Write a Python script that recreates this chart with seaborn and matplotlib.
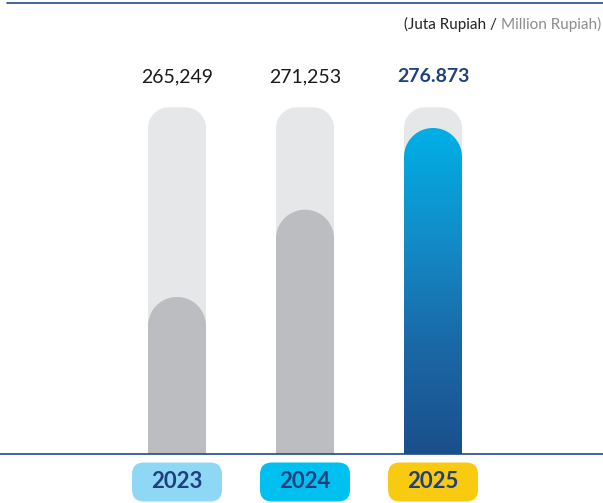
import numpy as np
import pandas as pd
import matplotlib
matplotlib.use("Agg")
import matplotlib.pyplot as plt
import seaborn as sns
from matplotlib.path import Path
from matplotlib.patches import PathPatch, FancyBboxPatch
from matplotlib.lines import Line2D
from matplotlib.transforms import blended_transform_factory
from matplotlib.colors import LinearSegmentedColormap

# ---------------- data ----------------
years = ["2023", "2024", "2025"]
values = [265249, 271253, 276873]
value_labels = ["265,249", "271,253", "276.873"]
track_value = 278300          # height of the light background "track"
axis_min = 254450
axis_max = 285470

# ---------------- style ----------------
sns.set_theme(style="white")
plt.rcParams['font.family'] = ['Lato', 'DejaVu Sans']

W, H = 603, 503
fig = plt.figure(figsize=(W / 100, H / 100), dpi=100)
ax = fig.add_axes([0, 49 / H, 1, 451 / H])

df = pd.DataFrame({"year": years, "value": values})
tdf = pd.DataFrame({"year": years, "value": [track_value] * len(years)})

bar_w = 58 / 128
sns.barplot(data=tdf, x="year", y="value", color="#e6e7e9", width=bar_w,
            saturation=1, ax=ax)
sns.barplot(data=df, x="year", y="value", color="#bcbdc0", width=bar_w,
            saturation=1, ax=ax)

xlim = (-177 / 128, (W - 177) / 128)
ax.set_xlim(*xlim)
ax.set_ylim(axis_min, axis_max)

ppx = W / (xlim[1] - xlim[0])
ppy = 451 / (axis_max - axis_min)


def arc(cx, cy, rx, ry, a0, a1, n=40):
    t = np.linspace(a0, a1, n)
    return list(zip(cx + rx * np.cos(t), cy + ry * np.sin(t)))


def rounded_top_path(x0, w, top, bottom, r_px):
    x1 = x0 + w
    rx = r_px / ppx
    ry = r_px / ppy
    pts = [(x0, bottom), (x0, top - ry)]
    pts += arc(x0 + rx, top - ry, rx, ry, np.pi, np.pi / 2)
    pts += arc(x1 - rx, top - ry, rx, ry, np.pi / 2, 0)
    pts += [(x1, bottom), (x0, bottom)]
    codes = [Path.MOVETO] + [Path.LINETO] * (len(pts) - 2) + [Path.CLOSEPOLY]
    return Path(pts, codes)


patches = list(ax.patches)
tracks, fronts = patches[:3], patches[3:6]
bottom = axis_min - 2 / ppy

for p in tracks:
    x0, w, h, fc = p.get_x(), p.get_width(), p.get_height(), p.get_facecolor()
    p.remove()
    pp = PathPatch(rounded_top_path(x0, w, h, bottom, 21), facecolor=fc,
                   edgecolor="none", zorder=1)
    ax.add_patch(pp)

cmap = LinearSegmentedColormap.from_list(
    "grad", ["#1b4f8b", "#1a68a6", "#128dc8", "#00b0e7"])

for i, p in enumerate(fronts):
    x0, w, h, fc = p.get_x(), p.get_width(), p.get_height(), p.get_facecolor()
    p.remove()
    r_px = w * ppx / 2
    pp = PathPatch(rounded_top_path(x0, w, h, bottom, r_px), facecolor=fc,
                   edgecolor="none", zorder=2)
    ax.add_patch(pp)
    if years[i] == "2025":
        pp.set_facecolor("none")
        grad = np.linspace(0, 1, 256).reshape(-1, 1)
        im = ax.imshow(grad, cmap=cmap, origin="lower", aspect="auto",
                       extent=[x0, x0 + w, bottom, h], zorder=2)
        im.set_clip_path(pp)

ax.set_xlim(*xlim)
ax.set_ylim(axis_min, axis_max)

# baseline
ax.axhline(axis_min, color="#24498a", lw=1.2, clip_on=False, zorder=3)
# top rule
fig.add_artist(Line2D([7 / W, 1], [1 - 2.5 / H] * 2, transform=fig.transFigure,
                      color="#24498a", lw=1.2))

for s in ax.spines.values():
    s.set_visible(False)
ax.set_xticks([])
ax.set_yticks([])
ax.set_xlabel("")
ax.set_ylabel("")
ax.patch.set_alpha(0)

# value labels
tr = blended_transform_factory(ax.transData, ax.transAxes)
for i, lab in enumerate(value_labels):
    last = (i == len(value_labels) - 1)
    ax.text(i, (454 - 77) / 451, lab, transform=tr, ha="center", va="center",
            fontsize=14, fontweight="bold" if last else "normal",
            color="#1f417f" if last else "#1a1a1a")

# year boxes
box_colors = ["#8fd8f5", "#00c0f0", "#f9cb10"]
fig.canvas.draw()
for i, yr in enumerate(years):
    cx = ax.transData.transform((i, 0))[0] / fig.dpi
    bw, bh = 0.90, 0.39
    y0 = 1.5 / 100
    box = FancyBboxPatch((cx - bw / 2, y0), bw, bh,
                         boxstyle="round,pad=0,rounding_size=0.12",
                         transform=fig.dpi_scale_trans,
                         facecolor=box_colors[i], edgecolor="none")
    fig.add_artist(box)
    fig.text(cx / (W / 100), (y0 + bh / 2) / (H / 100), yr, ha="center",
             va="center", fontsize=16, fontweight="bold", color="#213f7e")

# unit text
renderer = fig.canvas.get_renderer()
t2 = fig.text(601 / W, 1 - 24 / H, "Million Rupiah)", ha="right", va="center",
              fontsize=11, color="#8c8c8c")
bb = t2.get_window_extent(renderer=renderer)
fig.text(bb.x0 / fig.bbox.width, 1 - 24 / H, "(Juta Rupiah / ", ha="right",
         va="center", fontsize=11, color="#222222")

fig.savefig("out.png", dpi=100)
